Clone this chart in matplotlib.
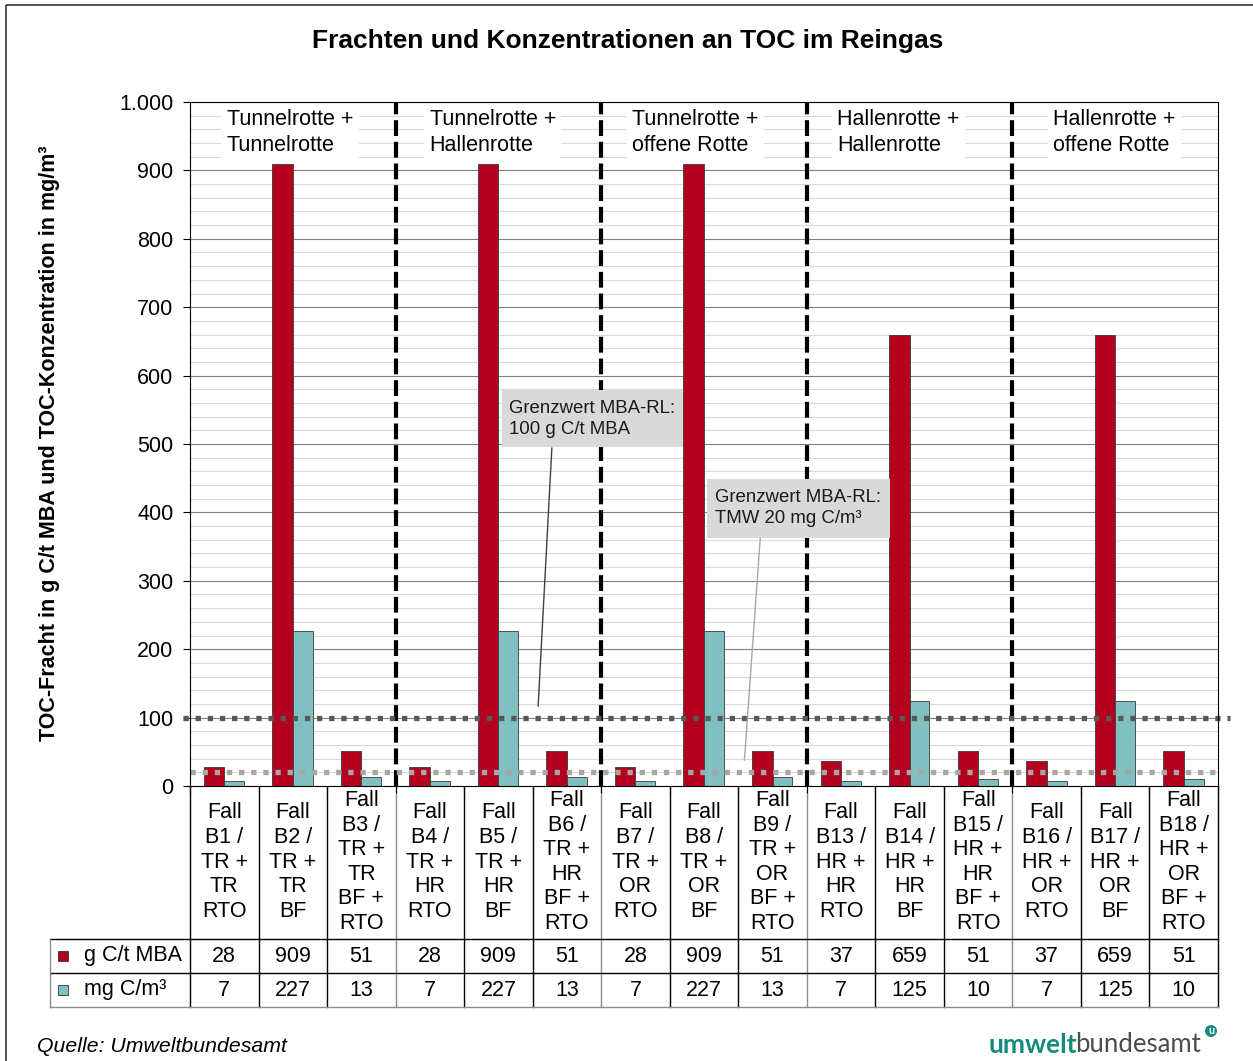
import matplotlib
matplotlib.use("Agg")
import matplotlib.pyplot as plt
import numpy as np
from matplotlib.patches import Rectangle, Circle
from matplotlib.ticker import MultipleLocator
from matplotlib.transforms import blended_transform_factory

plt.rcParams["font.family"] = ["Liberation Sans", "DejaVu Sans"]

CASE_LABELS = [
    "Fall\nB1 /\nTR +\nTR\nRTO",
    "Fall\nB2 /\nTR +\nTR\nBF",
    "Fall\nB3 /\nTR +\nTR\nBF +\nRTO",
    "Fall\nB4 /\nTR +\nHR\nRTO",
    "Fall\nB5 /\nTR +\nHR\nBF",
    "Fall\nB6 /\nTR +\nHR\nBF +\nRTO",
    "Fall\nB7 /\nTR +\nOR\nRTO",
    "Fall\nB8 /\nTR +\nOR\nBF",
    "Fall\nB9 /\nTR +\nOR\nBF +\nRTO",
    "Fall\nB13 /\nHR +\nHR\nRTO",
    "Fall\nB14 /\nHR +\nHR\nBF",
    "Fall\nB15 /\nHR +\nHR\nBF +\nRTO",
    "Fall\nB16 /\nHR +\nOR\nRTO",
    "Fall\nB17 /\nHR +\nOR\nBF",
    "Fall\nB18 /\nHR +\nOR\nBF +\nRTO",
]
LOAD_G_C_T = [28, 909, 51, 28, 909, 51, 28, 909, 51, 37, 659, 51, 37, 659, 51]
CONC_MG_C_M3 = [7, 227, 13, 7, 227, 13, 7, 227, 13, 7, 125, 10, 7, 125, 10]
SERIES_NAMES = ["g C/t MBA", "mg C/m³"]
GROUP_LABELS = [
    "Tunnelrotte +\nTunnelrotte",
    "Tunnelrotte +\nHallenrotte",
    "Tunnelrotte +\noffene Rotte",
    "Hallenrotte +\nHallenrotte",
    "Hallenrotte +\noffene Rotte",
]
LIMIT_LOAD = 100
LIMIT_CONC = 20

RED = "#b3001e"
TEAL = "#80c0c0"
FS = 15.5

W, H = 1253, 1061
fig = plt.figure(figsize=(W / 100, H / 100), dpi=100)

# background axes in pixel coordinates for table, title and frame
bg = fig.add_axes([0, 0, 1, 1], zorder=0)
bg.set_xlim(0, W)
bg.set_ylim(H, 0)
bg.axis("off")

ax = fig.add_axes([190 / W, (H - 786) / H, 1028 / W, 684 / H], zorder=1)
n = len(LOAD_G_C_T)
x = np.arange(n)
ax.set_xlim(-0.5, n - 0.5)
ax.set_ylim(0, 1000)

ax.set_axisbelow(True)
ax.yaxis.set_minor_locator(MultipleLocator(20))
ax.grid(which="minor", axis="y", color="#d9d9d9", lw=0.8)
ax.grid(which="major", axis="y", color="#808080", lw=0.8)

ax.bar(x - 0.3, LOAD_G_C_T, width=0.3, align="edge", color=RED,
       edgecolor="#3a3a3a", lw=0.6, zorder=2)
ax.bar(x, CONC_MG_C_M3, width=0.29, align="edge", color=TEAL,
       edgecolor="#3a3a3a", lw=0.6, zorder=2)

# group separators
for b in np.arange(2.5, n - 1, 3):
    ax.plot([b, b], [0, 1000], color="black", lw=3, ls=(0, (3.8, 1.4)),
            dash_capstyle="butt", zorder=4)

# limit lines
ax.plot([-0.6, n - 0.32], [LIMIT_LOAD, LIMIT_LOAD], color="#595959", lw=3.8,
        ls=(0, (1, 1.3)), dash_capstyle="butt", clip_on=False, zorder=5)
ax.plot([-0.5, n - 0.5], [LIMIT_CONC, LIMIT_CONC], color="#a6a6a6", lw=3.8,
        ls=(0, (1, 1.3)), dash_capstyle="butt", zorder=5)

# group labels
group_x = [0.96, 3.92, 6.87, 9.84, 12.99]
for gx, label in zip(group_x, GROUP_LABELS):
    ax.text(gx, 955, label, ha="center", va="center", fontsize=FS,
            multialignment="left", linespacing=1.32, zorder=3,
            bbox=dict(boxstyle="square,pad=0.25", fc="white", ec="none"))

# annotation boxes
ax.add_patch(Rectangle((4.055, 495.6), 2.642, 83.4, fc="#d9d9d9", ec="none", zorder=6))
ax.text(4.16, 537, "Grenzwert MBA-RL:\n100 g C/t MBA", fontsize=13.4,
        va="center", ha="left", linespacing=1.28, color="#1a1a1a", zorder=7)
ax.plot([4.78, 4.58], [494, 117], color="#404040", lw=1, zorder=6)

ax.add_patch(Rectangle((7.047, 362.6), 2.673, 86.2, fc="#d9d9d9", ec="none", zorder=6))
ax.text(7.16, 406, "Grenzwert MBA-RL:\nTMW 20 mg C/m³", fontsize=13.4,
        va="center", ha="left", linespacing=1.28, color="#1a1a1a", zorder=7)
ax.plot([7.82, 7.59], [362, 38], color="#a6a6a6", lw=1, zorder=6)

yt = np.arange(0, 1001, 100)
ax.set_yticks(yt)
ax.set_yticklabels([f"{v:,.0f}".replace(",", ".") for v in yt])
ax.tick_params(axis="y", which="major", length=5, width=0.8, pad=7, labelsize=FS)
ax.tick_params(axis="y", which="minor", length=0)
ax.set_xticks(np.arange(-0.5, n, 1))
ax.set_xticklabels([])
ax.tick_params(axis="x", length=5, width=0.8)
for s in ax.spines.values():
    s.set_linewidth(0.8)
    s.set_color("black")
    s.set_zorder(10)

# table below the axis
tr = blended_transform_factory(ax.transData, bg.transData)
for b in np.arange(-0.5, n, 1):
    is_sep = b in (2.5, 5.5, 8.5, 11.5)
    bg.plot([b, b], [786, 1007], transform=tr,
            color="#8c8c8c" if is_sep else "black", lw=1)
bg.plot([50, 1218], [939, 939], color="black", lw=1)
bg.plot([50, 1218], [973, 973], color="black", lw=1)
bg.plot([50, 1218], [1007, 1007], color="#8c8c8c", lw=1)
bg.plot([50, 50], [939, 1007], color="#8c8c8c", lw=1)

for i in range(n):
    bg.text(i, 862, CASE_LABELS[i], transform=tr, ha="center", va="center",
            fontsize=FS, linespacing=1.225)
    bg.text(i, 956, str(LOAD_G_C_T[i]), transform=tr, ha="center", va="center", fontsize=FS)
    bg.text(i, 990, str(CONC_MG_C_M3[i]), transform=tr, ha="center", va="center", fontsize=FS)

for yrow, col, name in [(956, RED, SERIES_NAMES[0]), (990, TEAL, SERIES_NAMES[1])]:
    bg.add_patch(Rectangle((58, yrow - 5), 10, 10, fc=col, ec="#333333", lw=0.6))
    bg.text(84, yrow, name, ha="left", va="center", fontsize=FS)

bg.text(628, 41, "Frachten und Konzentrationen an TOC im Reingas", ha="center",
        va="center", fontsize=19, fontweight="bold")
bg.text(50, 443, "TOC-Fracht in g C/t MBA und TOC-Konzentration in mg/m³",
        rotation=90, ha="center", va="center", fontsize=15.5, fontweight="bold")
bg.text(37, 1047, "Quelle: Umweltbundesamt", style="italic", ha="left",
        va="center", fontsize=15.3)

# logo
bg.text(988, 1045, "umwelt", color="#138a80", fontweight="bold", fontsize=19,
        family="Lato", ha="left", va="center")
bg.text(1075, 1045, "bundesamt", color="#4d4d4d", fontsize=18.5, family="Lato",
        ha="left", va="center")
bg.add_patch(Circle((1211, 1031), 6, fc="#138a80", ec="none"))
bg.text(1211, 1031, "u", color="white", fontsize=7, fontweight="bold",
        ha="center", va="center")

bg.add_patch(Rectangle((5.5, 4.5), 1400, 1200, fill=False, ec="#333333", lw=1.2))

fig.savefig("out.png", dpi=100)
